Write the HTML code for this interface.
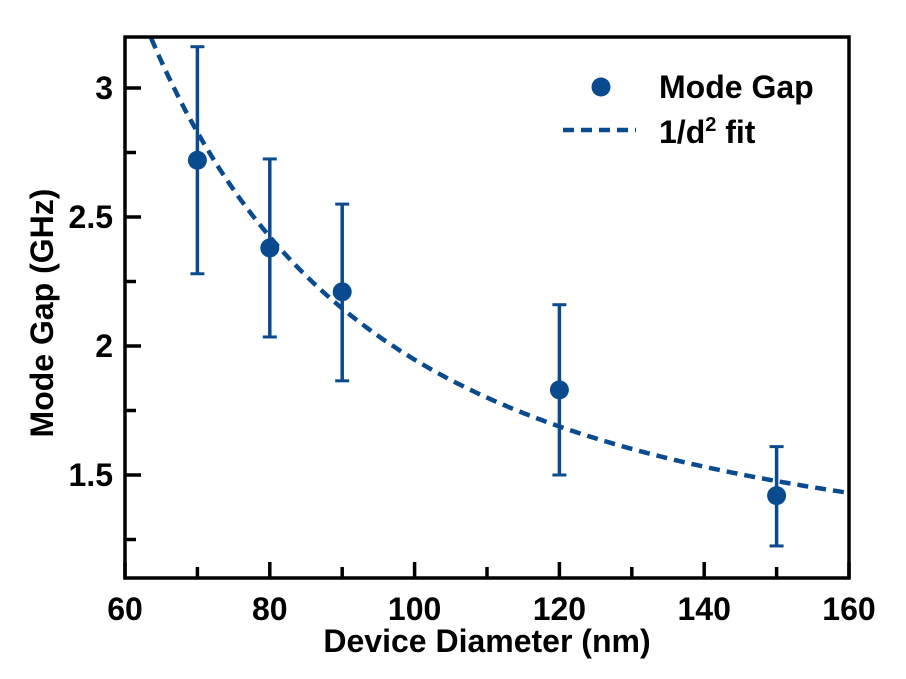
<!DOCTYPE html>
<html><head><meta charset="utf-8"><style>body{margin:0;background:#fff}svg{display:block}text{font-family:"Liberation Sans",Arial,sans-serif;font-weight:bold;fill:#000}</style></head>
<body>
<svg id="c" width="906" height="679"></svg>
<script>
const diameters=[70,80,90,120,150];
const gaps=[2.72,2.38,2.21,1.83,1.42];
const errLo=[2.28,2.035,1.865,1.50,1.225];
const errHi=[3.16,2.725,2.55,2.16,1.61];
const xTicks=[60,80,100,120,140,160];
const xMinor=[70,90,110,130,150];
const yTicks=[1.5,2,2.5,3];
const yMinor=[1.25,1.75,2.25,2.75];
const fitA=1.10, fitB=8470;
const L=125,R=849,T=37,B=578;
const x=v=>L+(v-60)*(R-L)/100;
const y=v=>88+(3-v)*258;
const svg=document.getElementById('c');
const NS='http://www.w3.org/2000/svg';
function mk(t,a,p){const e=document.createElementNS(NS,t);for(const k in a)e.setAttribute(k,a[k]);(p||svg).appendChild(e);return e;}
const col='#0a4a8f';
const cp=mk('clipPath',{id:'cl'});mk('rect',{x:L,y:T,width:R-L,height:B-T},cp);
let d='';for(let v=60;v<=160;v+=0.5){const yy=fitA+fitB/(v*v);d+=(d?'L':'M')+x(v).toFixed(1)+','+y(yy).toFixed(1);}
const fit=mk('path',{d,fill:'none',stroke:col,'stroke-width':4.5,'stroke-dasharray':'11,7','clip-path':'url(#cl)'});


diameters.forEach((dv,i)=>{
 const g=mk('g',{});
 
 
 const cx=x(dv);
 mk('line',{x1:cx,x2:cx,y1:y(errLo[i]),y2:y(errHi[i]),stroke:col,'stroke-width':3.5},g);
 mk('line',{x1:cx-7,x2:cx+7,y1:y(errLo[i]),y2:y(errLo[i]),stroke:col,'stroke-width':3},g);
 mk('line',{x1:cx-7,x2:cx+7,y1:y(errHi[i]),y2:y(errHi[i]),stroke:col,'stroke-width':3},g);
 mk('circle',{cx,cy:y(gaps[i]),r:9.5,fill:col},g);
});
const fr=mk('rect',{x:L,y:T,width:R-L,height:B-T,fill:'none',stroke:'#000','stroke-width':3.5});


xTicks.forEach(v=>{mk('line',{x1:x(v),x2:x(v),y1:B,y2:B-16,stroke:'#000','stroke-width':3.5});
 const t=mk('text',{x:x(v),y:B+42,'text-anchor':'middle','font-size':32});t.textContent=v;
 
 });
xMinor.forEach(v=>mk('line',{x1:x(v),x2:x(v),y1:B,y2:B-11,stroke:'#000','stroke-width':3.5}));
yTicks.forEach(v=>{mk('line',{x1:L,x2:L+16,y1:y(v),y2:y(v),stroke:'#000','stroke-width':3.5});
 const t=mk('text',{x:L-12,y:y(v)+11,'text-anchor':'end','font-size':32});t.textContent=v;
 
 });
yMinor.forEach(v=>mk('line',{x1:L,x2:L+11,y1:y(v),y2:y(v),stroke:'#000','stroke-width':3.5}));
</script>
<div style="position:absolute;left:0;top:0;width:906px;height:679px;pointer-events:none">
<svg width="906" height="679">
<text x="487" y="652" text-anchor="middle" font-size="32">Device Diameter (nm)</text>
<text transform="translate(53,313) rotate(-90)" text-anchor="middle" font-size="32">Mode Gap (GHz)</text>
<g>
<circle cx="601" cy="87" r="9.5" fill="#0a4a8f"/>
<text x="659" y="98" font-size="32">Mode Gap</text>
<line x1="563" x2="636" y1="130" y2="130" stroke="#0a4a8f" stroke-width="4.5" stroke-dasharray="11,7"/>
<text x="659" y="143" font-size="32">1/d<tspan dy="-12" font-size="20">2</tspan><tspan dy="12"> fit</tspan></text>
</g>
</svg></div>
</body></html>
